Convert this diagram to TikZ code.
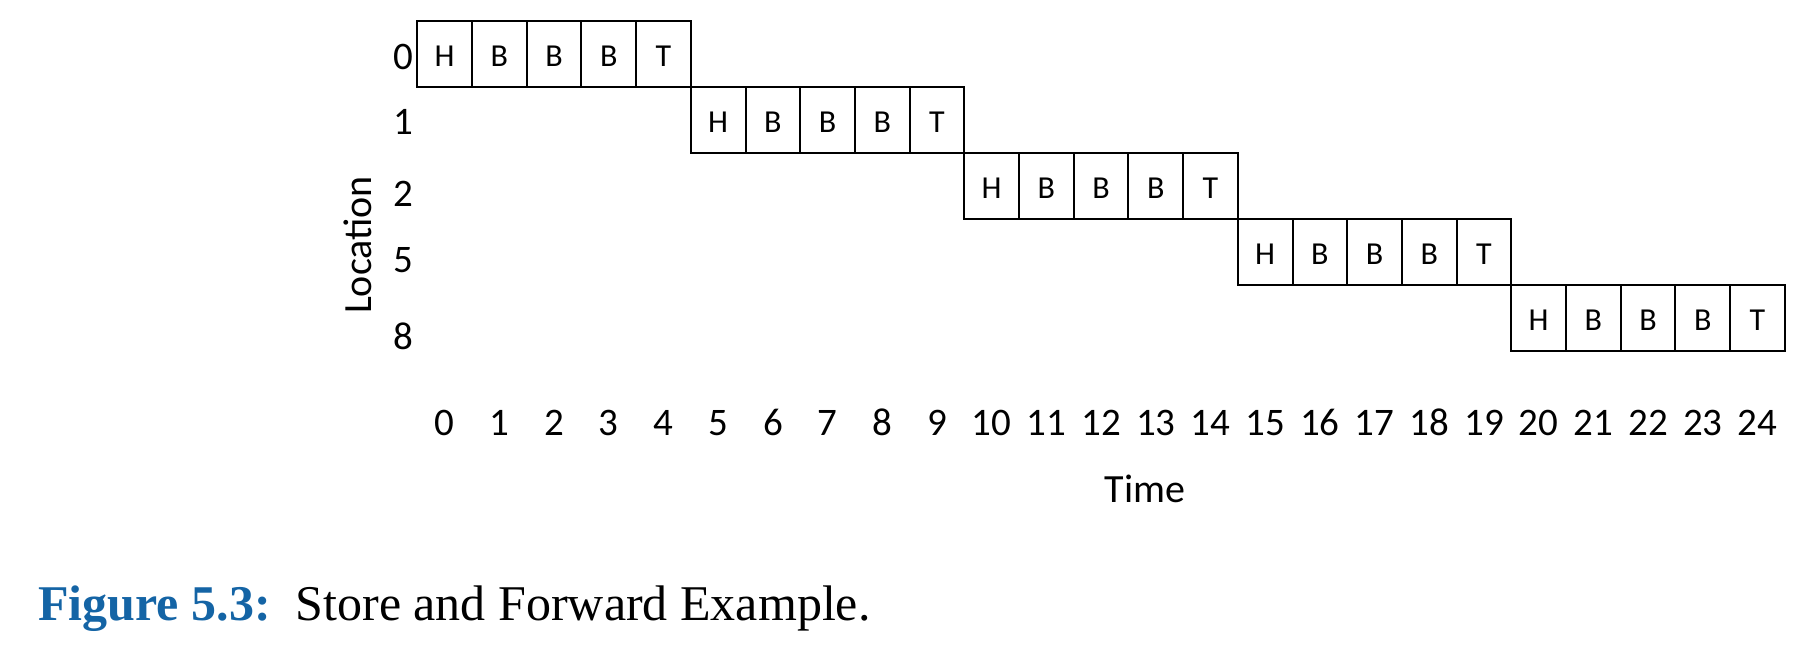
\documentclass[tikz,border=0pt]{standalone}
\usepackage{fontspec}
\setmainfont{Liberation Serif}
\newfontfamily\calib{Carlito}
\definecolor{capblue}{RGB}{20,100,165}
\begin{document}
\begin{tikzpicture}[x=0.5pt,y=-0.5pt,
  cell/.style={draw,line width=1pt,minimum width=27.35pt,minimum height=33pt,
    inner sep=0pt,outer sep=0pt,text height=13pt,text depth=0pt,
    font=\calib\fontsize{16}{18}\selectfont},
  axnum/.style={anchor=base,inner sep=0pt,font=\calib\fontsize{19.5}{22}\selectfont},
  axtitle/.style={inner sep=0pt,font=\calib\fontsize{20}{24}\selectfont},
  captext/.style={anchor=base west,inner sep=0pt,font=\fontsize{25}{29}\selectfont}]
\useasboundingbox (0,0) rectangle (1818,646);
% message cells
\foreach \r in {0,...,4}{
  \foreach \t [count=\k from 0] in {H,B,B,B,T}{
    \node[cell] (c\r\k) at ({444.65+(5*\r+\k)*54.7},{53.7+\r*66.07}) {\t};
  }
}
% location labels
\node[axnum] (l0) at (403,70) {0};
\node[axnum] (l1) at (403,135) {1};
\node[axnum] (l2) at (403,207) {2};
\node[axnum] (l5) at (403,273) {5};
\node[axnum] (l8) at (403,350) {8};
\node[axtitle,rotate=90] (loc) at (358,245) {Location};
% time labels
\foreach \i in {0,...,24}{
  \node[axnum] (t\i) at ({444.7+54.7*\i},435) {\i};
}
\node[axtitle,anchor=base] (time) at (1145,502) {Time};
% caption
\node[captext] (cap) at (38,620) {\textcolor{capblue}{\textbf{Figure 5.3:}}\hspace{0.5em}Store and Forward Example.};
\end{tikzpicture}
\end{document}
